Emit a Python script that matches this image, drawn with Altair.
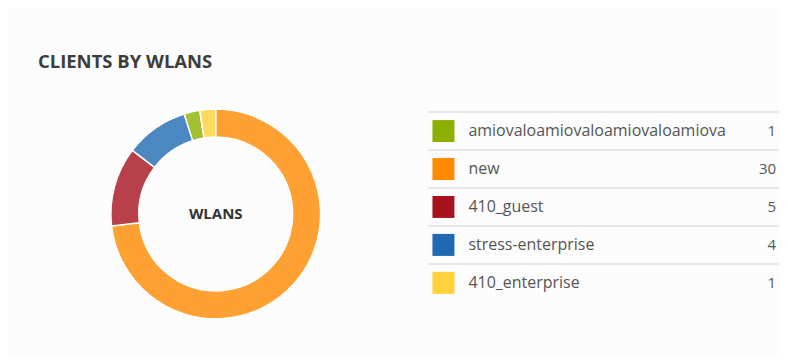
import altair as alt
import pandas as pd

title_text = "CLIENTS BY WLANS"
center_text = "WLANS"
wlans = ["amiovaloamiovaloamiovaloamiova", "new", "410_guest", "stress-enterprise", "410_enterprise"]
clients = [1, 30, 5, 4, 1]
pie_order = [3, 0, 1, 2, 4]
colors = ["#8db000", "#ff8a00", "#a8121f", "#1f6ab3", "#ffd23a"]

df = pd.DataFrame({
    "wlan": wlans,
    "clients": clients,
    "porder": pie_order,
    "row": list(range(len(wlans))),
})
df["line"] = df["row"] - 0.5

W, H = 772, 346
color = alt.Color("wlan:N", scale=alt.Scale(domain=wlans, range=colors), legend=None)
yrow = alt.Scale(domain=[0, 4], range=[123, 275])

base = alt.Chart(df)

pie = base.mark_arc(innerRadius=77, outerRadius=105, stroke="white", strokeWidth=1.5, opacity=0.8).encode(
    theta=alt.Theta("clients:Q", stack=True),
    order=alt.Order("porder:Q"),
    color=color,
    x=alt.value(208),
    y=alt.value(206),
)

center = alt.Chart(pd.DataFrame({"t": [center_text]})).mark_text(
    font="Open Sans", fontSize=15, fontWeight="bold", color="#333333", baseline="middle", align="center"
).encode(text="t:N", x=alt.value(208), y=alt.value(206))

title = alt.Chart(pd.DataFrame({"t": [title_text]})).mark_text(
    font="Open Sans", fontSize=18.5, fontWeight="bold", color="#3c3c3c", baseline="middle", align="left"
).encode(text="t:N", x=alt.value(30), y=alt.value(54))

lines = base.mark_rule(color="#e2e2e2", strokeWidth=1.5).encode(
    y=alt.Y("line:Q", scale=yrow, axis=None),
    x=alt.value(420),
    x2=alt.value(W),
)

swatch = base.mark_square(size=484, opacity=1).encode(
    y=alt.Y("row:Q", scale=yrow, axis=None),
    x=alt.value(436),
    color=color,
)

labels = base.mark_text(font="Open Sans", fontSize=16, color="#555555", align="left", baseline="middle").encode(
    y=alt.Y("row:Q", scale=yrow, axis=None),
    x=alt.value(461),
    text="wlan:N",
)

values = base.mark_text(font="Open Sans", fontSize=15, color="#555555", align="right", baseline="middle").encode(
    y=alt.Y("row:Q", scale=yrow, axis=None),
    x=alt.value(769),
    text="clients:Q",
)

chart = alt.layer(pie, center, title, lines, swatch, labels, values).properties(
    width=W, height=H, padding=0, background="#fcfcfc"
).configure_view(stroke=None)

chart.save("out.html", embed_options={"renderer": "svg", "actions": False})
